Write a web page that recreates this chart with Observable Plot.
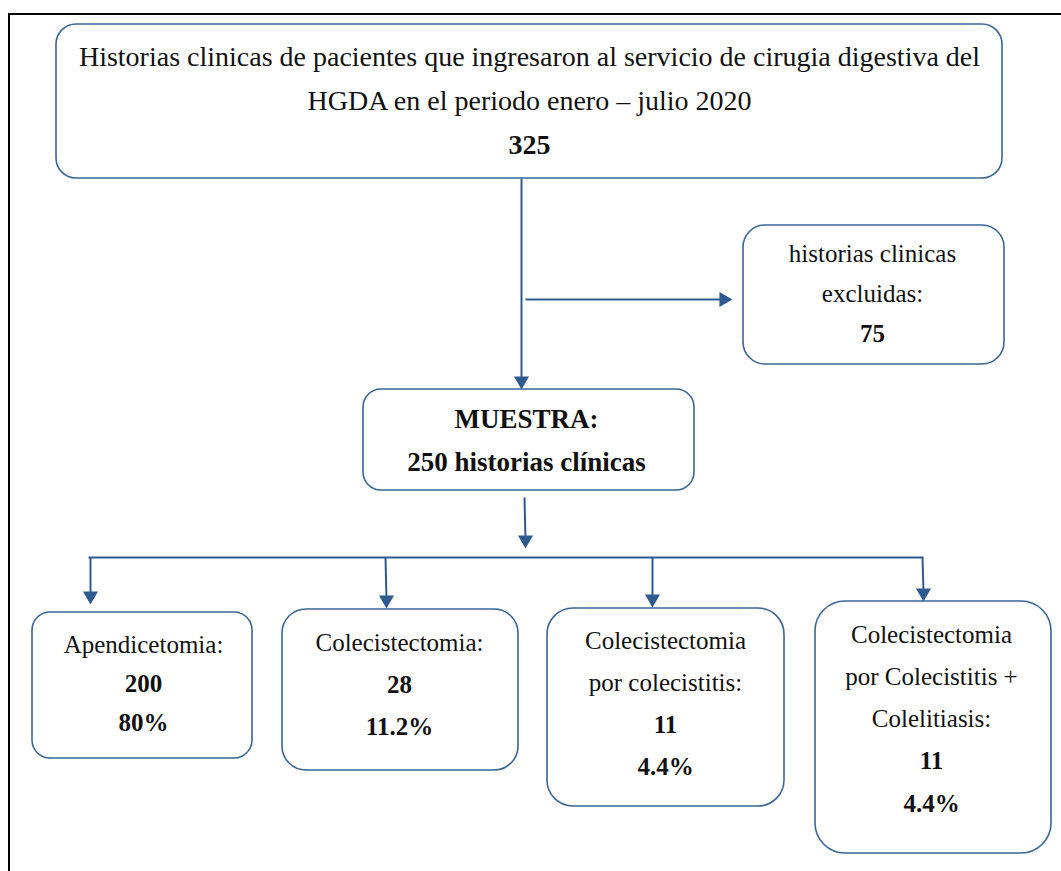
<!DOCTYPE html>
<html><head><meta charset="utf-8">
<script src="https://cdn.jsdelivr.net/npm/d3@7"></script>
<script src="https://cdn.jsdelivr.net/npm/@observablehq/plot@0.6"></script>
<style>
html,body{margin:0;padding:0;background:#fff;overflow:hidden}
#chart svg{display:block}
</style></head><body><div id="chart"></div>
<script>
// ---------- DATA ----------
const totalText = ["Historias clinicas de pacientes que ingresaron al servicio de cirugia digestiva del", "HGDA en el periodo enero – julio 2020"];
const totalN = 325;
const excludedText = ["historias clinicas", "excluidas:"];
const excludedN = 75;
const sampleText = "MUESTRA:";
const sampleN = 250;
const sampleUnit = "historias clínicas";
const procedureText = [["Apendicetomia:"], ["Colecistectomia:"], ["Colecistectomia", "por colecistitis:"], ["Colecistectomia", "por Colecistitis +", "Colelitiasis:"]];
const procedureN = [200, 28, 11, 11];
const procedurePct = ["80%", "11.2%", "4.4%", "4.4%"];

// ---------- LAYOUT (pixel units of the page) ----------
const W = 1061, H = 871;
const boxColor = "#3a6597", arrowColor = "#2f5a8f";
const boxes = [
  {id: "total",    x1: 56,  y1: 24,  x2: 1002, y2: 178, rx: 20, cx: 529, y0: 57,  gap: 44,   size: 28},
  {id: "excluded", x1: 743, y1: 225, x2: 1004, y2: 364, rx: 22, cx: 872, y0: 253, gap: 40,   size: 25},
  {id: "sample",   x1: 363, y1: 389, x2: 694,  y2: 490, rx: 18, cx: 526, y0: 419, gap: 43,   size: 27},
  {id: "p0",       x1: 32,  y1: 612, x2: 252,  y2: 758, rx: 18, cx: 143, y0: 644, gap: 39,   size: 25},
  {id: "p1",       x1: 282, y1: 609, x2: 518,  y2: 770, rx: 24, cx: 399, y0: 642, gap: 42,   size: 25},
  {id: "p2",       x1: 547, y1: 608, x2: 784,  y2: 806, rx: 26, cx: 665, y0: 640, gap: 42,   size: 25},
  {id: "p3",       x1: 815, y1: 601, x2: 1051, y2: 853, rx: 30, cx: 931, y0: 634, gap: 42.3, size: 25}
];
// box contents built from the data arrays: [text, bold]
const contents = {
  total: [...totalText.map(t => [t, false]), [String(totalN), true]],
  excluded: [...excludedText.map(t => [t, false]), [String(excludedN), true]],
  sample: [[sampleText, true], [`${sampleN} ${sampleUnit}`, true]]
};
procedureText.forEach((lines, i) => {
  contents["p" + i] = [...lines.map(t => [t, false]), [String(procedureN[i]), true], [procedurePct[i], true]];
});
const textLines = boxes.flatMap(b => contents[b.id].map(([text, bold], i) => ({
  x: b.cx, y: b.y0 + i * b.gap, text, bold, size: b.size
})));

// connectors
const trunkX = 521, branchY = 557;
const connectors = [
  {x1: trunkX, y1: 178, x2: trunkX, y2: 380},
  {x1: 525, y1: 299, x2: 722, y2: 299},
  {x1: 524, y1: 497, x2: 525, y2: 539},
  {x1: 88, y1: branchY, x2: 923, y2: branchY},
  {x1: 90, y1: branchY, x2: 90, y2: 595},
  {x1: 385, y1: branchY, x2: 386, y2: 599},
  {x1: 652, y1: branchY, x2: 652, y2: 598},
  {x1: 922, y1: branchY, x2: 923, y2: 592}
];
const headR = 5.6;
const headLen = 2 * headR * Math.sqrt(Math.PI / (3 * Math.sqrt(3))); // centroid-to-tip distance of the triangle symbol
const heads = [
  {x: trunkX, y: 389, dir: "down"},
  {x: 732, y: 299, dir: "right"},
  {x: 525, y: 548, dir: "down"},
  {x: 90, y: 604, dir: "down"},
  {x: 386, y: 608, dir: "down"},
  {x: 652, y: 607, dir: "down"},
  {x: 923, y: 601, dir: "down"}
].map(h => h.dir === "down"
  ? {x: h.x, y: h.y - headLen, rotate: 180}
  : {x: h.x - headLen, y: h.y, rotate: 90});

const frame = [{x1: 9, y1: 14, x2: W + 20, y2: H + 20}];

const font = "Liberation Serif, Times New Roman, serif";

const plot = Plot.plot({
  width: W, height: H,
  margin: 0,
  x: {domain: [0, W], range: [0, W], axis: null},
  y: {domain: [0, H], range: [0, H], axis: null},
  style: {background: "#fff", fontFamily: font},
  marks: [
    Plot.rect(frame, {x1: "x1", y1: "y1", x2: "x2", y2: "y2", fill: "none", stroke: "#000", strokeWidth: 2}),
    ...boxes.map(b => Plot.rect([b], {x1: "x1", y1: "y1", x2: "x2", y2: "y2", rx: b.rx, fill: "#fff", stroke: boxColor, strokeWidth: 1.6})),
    Plot.link(connectors, {x1: "x1", y1: "y1", x2: "x2", y2: "y2", stroke: arrowColor, strokeWidth: 2}),
    Plot.dot(heads, {x: "x", y: "y", rotate: "rotate", symbol: "triangle", r: headR, fill: arrowColor, stroke: "none"}),
    Plot.text(textLines.filter(d => !d.bold), {x: "x", y: "y", text: "text", fontSize: "size", fontFamily: font, fill: "#111", textAnchor: "middle", lineAnchor: "middle"}),
    Plot.text(textLines.filter(d => d.bold), {x: "x", y: "y", text: "text", fontSize: "size", fontFamily: font, fontWeight: "bold", fill: "#111", textAnchor: "middle", lineAnchor: "middle"})
  ]
});
document.getElementById("chart").appendChild(plot);
</script></body></html>
